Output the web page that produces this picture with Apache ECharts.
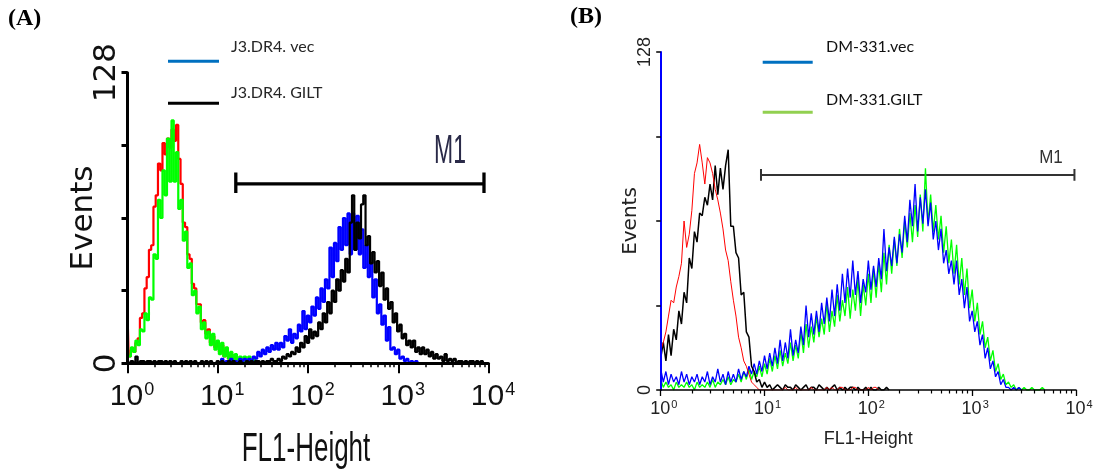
<!DOCTYPE html>
<html><head><meta charset="utf-8">
<script src="https://cdn.jsdelivr.net/npm/echarts@6/dist/echarts.min.js"></script>
<style>html,body{margin:0;padding:0;background:#fff}#c{width:1098px;height:469px}</style>
</head><body><div id="c"></div>
<script>
// ---- histogram channel width (decades of FL1) ----
const BIN = 0.025;
const decadeLabels = ['0', '1', '2', '3', '4'];
const yMax = 128;
const yStep = 32;
const xTitle = 'FL1-Height';
const yTitle = 'Events';
const gateLabel = 'M1';
const legendA = ['J3.DR4. vec', 'J3.DR4. GILT'];
const legendB = ['DM-331.vec', 'DM-331.GILT'];

// ---- Panel A (J3.DR4) : counts per channel, first channel exponent ----
const aRedStart = 0;
const aRed = [23,3,6,5,9,11,20,22,33,38,50,52,69,74,88,85,97,92,99,95,103,98,105,90,79,62,60,48,46,35,33,26,26,18,19,13,15,9,12,7,9,5,8,3,6,2,4,1,3,1,2,0,1,0];
const aGreenStart = 0;
const aGreen = [6,3,7,5,10,8,15,14,22,19,29,28,48,46,72,64,85,74,99,80,107,80,93,68,72,54,58,42,44,30,32,22,25,15,18,11,14,8,13,6,10,4,9,3,7,2,5,1,4,1,3,0,3,0,3,0,2,0,1];
const aVecStart = 1.0;
const aVec = [1,0,2,0,1,0,2,1,1,0, 2,1,2,1,2,1,3,2,5,3, 6,4,7,5,8,6,9,6,9,7, 12,10,15,9,13,11,17,14,23,15,
  21,18,25,21,29,24,33,27,37,33, 51,38,53,45,60,50,64,52,66,48, 66,50,65,48,59,42,52,38,44,29, 37,22,26,17,21,10,16,6,7,4, 6,2,3,1,2,0,1,0,1,0];
const aGiltStart = 0;
const aGilt = [0,0,1,0,3,0,1,1,0,1, 1,0,1,0,1,1,0,1,0,1, 0,1,0,0,1,0,1,0,1,0, 1,0,0,1,0,1,0,1,0,0,
  1,0,1,0,0,1,0,1,0,0, 1,0,0,1,0,1,0,1,1,0, 1,0,1,1,2,1,1,2,1,3, 2,4,3,5,4,7,5,9,7,12,
  9,15,11,14,12,18,15,22,18,27, 22,32,27,37,32,41,36,46,40,62, 74,50,62,55,70,74,52,56,44,49, 40,45,34,40,28,33,24,27,18,22,
  14,17,11,13,8,10,7,10,5,7, 4,7,4,6,3,5,2,4,2,3, 1,4,1,2,1,2,0,1,1,0, 1,0,1,1,0,1,0,1,0];
const gateA = [1.2, 3.95];      // M1 gate (exponents)
const gateAY = [75, 79, 84];    // cap low, bar level, cap high (events)

// ---- Panel B (DM-331) ----
const bRedStart = 0;
const bRed = [15,18,22,28,34,33,39,43,48,64,54,59,68,82,86,93,86,78,88,86,82,76,72,67,61,53,49,41,34,28,20,16,11,9,6,3,2,1,0,
  0,0,0,0,0,0,0,0,0,1, 0,0,0,1,0,0,0,0,0,1, 0,0,0,0,0,1,0,1,0,0, 1,1,0,0,0,1,1,0,0,0, 0,1,0,1,1,0];
const bBlackStart = 0;
const bBlack = [12,18,11,21,13,23,19,30,25,37,33,50,46,60,56,67,66,73,70,78,72,85,74,84,76,85,91,62,62,52,50,36,37,22,20,9,7,3,4,1,3,
  1,2,0,1,2,1,0,2,1,1,0,2,1,0,1,2,0,1,1,0,2,1,0,1,0,1,2,0,1,0,1,0,1,1,0,1,0,0,1,0,1,0,0,1,0,0,1,0];
const bVecStart = 0;
const bVec = [8,3,7,2,6,3,5,2,7,3, 6,2,5,3,6,2,5,3,7,2, 5,3,8,3,6,2,7,3,6,3, 8,4,7,5,9,6,10,6,11,7,
  13,8,14,9,16,10,19,11,18,12, 23,13,19,14,24,17,32,20,29,21, 30,22,33,25,35,26,38,28,40,30, 44,33,46,35,49,36,45,33,42,37,
  49,38,47,39,50,42,61,45,54,47, 58,48,59,52,66,56,72,62,78,60, 73,63,76,62,71,57,64,53,61,48, 53,44,49,40,49,36,42,31,39,26,
  30,22,26,17,21,12,16,8,11,5, 7,2,4,1,1,0,1,0,1,0];
const bGiltStart = 0;
const bGilt = [4,1,3,1,2,0,3,1,2,1, 3,1,2,0,3,1,2,1,3,1, 4,1,3,2,4,2,5,2,4,3, 6,3,7,4,8,4,7,5,9,5,
  10,6,12,7,13,8,15,9,14,10, 18,11,17,12,22,14,25,16,24,18, 28,20,27,21,33,22,30,24,36,26, 34,28,39,27,38,30,42,28,40,32,
  44,33,46,35,48,37,52,40,55,44, 57,47,61,50,64,54,67,56,70,58, 74,60,84,63,74,60,70,57,66,52, 62,48,57,44,55,40,50,36,46,31,
  38,26,33,21,26,16,20,11,15,7, 10,4,6,2,3,1,2,0,1,0, 1,0,0,1,0,0,0,1,0];
const gateB = [0.966, 3.985];
const gateBY = [79.2, 81.4, 83.7];

// ---------------- build ----------------
const SANS = '"Liberation Sans", Arial, sans-serif';
const DEJ = '"DejaVu Sans", sans-serif';
const LEG = 'Lato, "Open Sans", sans-serif';

function hist(start, vals) { return vals.map((v, i) => [start + i * BIN, v]); }
function gate(g, gy) {
  return [[g[0], gy[0]], [g[0], gy[2]], [g[0], gy[1]], [g[1], gy[1]], [g[1], gy[0]], [g[1], gy[2]]];
}
const minorVals = [];
for (let d = 0; d < 4; d++) for (let k = 2; k <= 9; k++) minorVals.push(d + Math.log10(k));

function xLabelFmt(v) { return '{p| }{m|10}{s|' + decadeLabels[Math.round(v)] + '}'; }
function yLabelFmt(v) { return (v === 0 || v === yMax) ? String(v) : ''; }

function histSeries(name, xi, yi, data, color, width, step, z) {
  return { name, type: 'line', xAxisIndex: xi, yAxisIndex: yi, data, symbol: 'none', step: step,
    lineStyle: { color, width }, itemStyle: { color }, silent: true, z: z, animation: false };
}
function txt(x, y, text, font, fill, align, extra) {
  return Object.assign({ type: 'text', x, y, style: { text, font, fill, align: align, verticalAlign: 'middle', textAlign: align, textVerticalAlign: 'middle' } }, extra || {});
}

const chart = echarts.init(document.getElementById('c'), null, { renderer: 'canvas' });
chart.setOption({
  animation: false,
  backgroundColor: '#fff',
  grid: [
    { left: 127.5, top: 72.7, width: 361, height: 290.6 },
    { left: 660.7, top: 52, width: 415.3, height: 338 }
  ],
  xAxis: [
    { gridIndex: 0, type: 'value', min: 0, max: 4, interval: 1, z: 6,
      axisLine: { lineStyle: { color: '#000', width: 3 } },
      axisTick: { length: 10, lineStyle: { color: '#000', width: 2 } },
      splitLine: { show: false },
      axisLabel: { margin: 18, color: '#111', formatter: xLabelFmt,
        rich: {
          p: { width: 9, fontSize: 18, fontFamily: SANS },
          m: { fontSize: 30, lineHeight: 30, padding: [5, 0, 0, 0], verticalAlign: 'bottom', fontFamily: SANS, color: '#111' },
          s: { fontSize: 18, lineHeight: 18, verticalAlign: 'top', fontFamily: SANS, color: '#111', padding: [0, 0, 0, 1] }
        } } },
    { gridIndex: 0, type: 'value', min: 0, max: 4, position: 'bottom', z: 6,
      axisLine: { show: false }, axisLabel: { show: false }, splitLine: { show: false },
      axisTick: { show: true, customValues: minorVals, length: 4, lineStyle: { color: '#000', width: 1.5 } } },
    { gridIndex: 1, type: 'value', min: 0, max: 4, interval: 1, z: 6,
      axisLine: { lineStyle: { color: '#000', width: 1.7 } },
      axisTick: { length: 6, lineStyle: { color: '#000', width: 1.3 } },
      splitLine: { show: false },
      axisLabel: { margin: 9, color: '#222', formatter: xLabelFmt,
        rich: {
          p: { width: 6, fontSize: 11, fontFamily: SANS },
          m: { fontSize: 18, lineHeight: 19, padding: [7, 0, 0, 0], verticalAlign: 'bottom', fontFamily: SANS, color: '#222' },
          s: { fontSize: 11, lineHeight: 12, verticalAlign: 'top', fontFamily: SANS, color: '#222', padding: [0, 0, 0, 1] }
        } },
      name: xTitle, nameLocation: 'middle', nameGap: 40, nameMoveOverlap: false,
      nameTextStyle: { fontFamily: SANS, fontSize: 18, color: '#222' } },
    { gridIndex: 1, type: 'value', min: 0, max: 4, position: 'bottom', z: 6,
      axisLine: { show: false }, axisLabel: { show: false }, splitLine: { show: false },
      axisTick: { show: true, customValues: minorVals, length: 3.5, lineStyle: { color: '#000', width: 1.2 } } }
  ],
  yAxis: [
    { gridIndex: 0, type: 'value', min: 0, max: yMax, interval: yStep, z: 6,
      axisLine: { show: true, lineStyle: { color: '#000', width: 3 } },
      axisTick: { show: true, length: 6, lineStyle: { color: '#000', width: 3 } },
      splitLine: { show: false },
      axisLabel: { rotate: 90, margin: 5, formatter: yLabelFmt, fontFamily: DEJ, fontSize: 31, color: '#111' },
      name: yTitle, nameLocation: 'middle', nameGap: 28, nameMoveOverlap: false,
      nameTextStyle: { fontFamily: DEJ, fontSize: 31, color: '#111' } },
    { gridIndex: 1, type: 'value', min: 0, max: yMax, interval: yStep, z: 6,
      axisLine: { show: true, lineStyle: { color: '#0000FF', width: 2 } },
      axisTick: { show: true, length: 4.5, lineStyle: { color: '#000', width: 1.5 } },
      splitLine: { show: false },
      axisLabel: { rotate: 90, margin: 7, formatter: yLabelFmt, fontFamily: SANS, fontSize: 18, color: '#222' },
      name: yTitle, nameLocation: 'middle', nameGap: 20, nameMoveOverlap: false,
      nameTextStyle: { fontFamily: DEJ, fontSize: 20, color: '#222' } }
  ],
  series: [
    { name: 'M1 A', type: 'line', xAxisIndex: 0, yAxisIndex: 0, data: gate(gateA, gateAY), symbol: 'none',
      lineStyle: { color: '#000', width: 3.3 }, silent: true, z: 1 },
    histSeries('A control 1', 0, 0, hist(aRedStart, aRed), '#FF0000', 2.2, 'middle', 2),
    histSeries('A control 2', 0, 0, hist(aGreenStart, aGreen), '#00FF00', 2.2, 'middle', 2),
    histSeries(legendA[0], 0, 0, hist(aVecStart, aVec), '#0000FF', 2.2, 'middle', 2),
    histSeries(legendA[1], 0, 0, hist(aGiltStart, aGilt), '#000000', 2.2, 'middle', 2),

    { name: 'M1 B', type: 'line', xAxisIndex: 2, yAxisIndex: 1, data: gate(gateB, gateBY), symbol: 'none',
      lineStyle: { color: '#333', width: 2 }, silent: true, z: 1 },
    histSeries(legendB[1], 2, 1, hist(bGiltStart, bGilt), '#00FF00', 1.3, false, 2),
    histSeries(legendB[0], 2, 1, hist(bVecStart, bVec), '#0000FF', 1.3, false, 2),
    histSeries('B control 2', 2, 1, hist(bBlackStart, bBlack), '#000000', 1.5, false, 2),
    histSeries('B control 1', 2, 1, hist(bRedStart, bRed), '#FF0000', 1, false, 2)
  ],
  graphic: [
    { type: 'text', x: 8, y: 7, style: { text: '(A)', font: 'bold 24px "Liberation Serif", serif', fill: '#000', align: 'left', verticalAlign: 'top', textAlign: 'left', textVerticalAlign: 'top' } },
    { type: 'text', x: 570, y: 5, style: { text: '(B)', font: 'bold 24px "Liberation Serif", serif', fill: '#000', align: 'left', verticalAlign: 'top', textAlign: 'left', textVerticalAlign: 'top' } },

    { type: 'line', shape: { x1: 168, y1: 61.3, x2: 219, y2: 61.3 }, style: { stroke: '#0070C0', lineWidth: 3 } },
    { type: 'line', shape: { x1: 168, y1: 103.3, x2: 219, y2: 103.3 }, style: { stroke: '#000', lineWidth: 3 } },
    txt(231, 47, legendA[0], '16px ' + LEG, '#262626', 'left'),
    txt(231, 93, legendA[1], '16px ' + LEG, '#262626', 'left'),

    { type: 'line', shape: { x1: 762.7, y1: 62.3, x2: 812.7, y2: 62.3 }, style: { stroke: '#0070C0', lineWidth: 3 } },
    { type: 'line', shape: { x1: 762.7, y1: 112.3, x2: 812.7, y2: 112.3 }, style: { stroke: '#92D050', lineWidth: 3 } },
    txt(826, 47, legendB[0], '16px ' + LEG, '#111', 'left'),
    txt(826, 100, legendB[1], '16px ' + LEG, '#111', 'left'),

    // panel A axis title (tall condensed lettering) and gate labels
    txt(306, 449.5, xTitle, '26px ' + SANS, '#111', 'center', { scaleY: 1.56 }),
    txt(450, 152, gateLabel, '23px ' + SANS, '#2a2a48', 'center', { scaleY: 1.8 }),
    txt(1051, 157.5, gateLabel, '17px ' + SANS, '#333', 'center', { scaleY: 1.1 })
  ]
});
</script></body></html>
